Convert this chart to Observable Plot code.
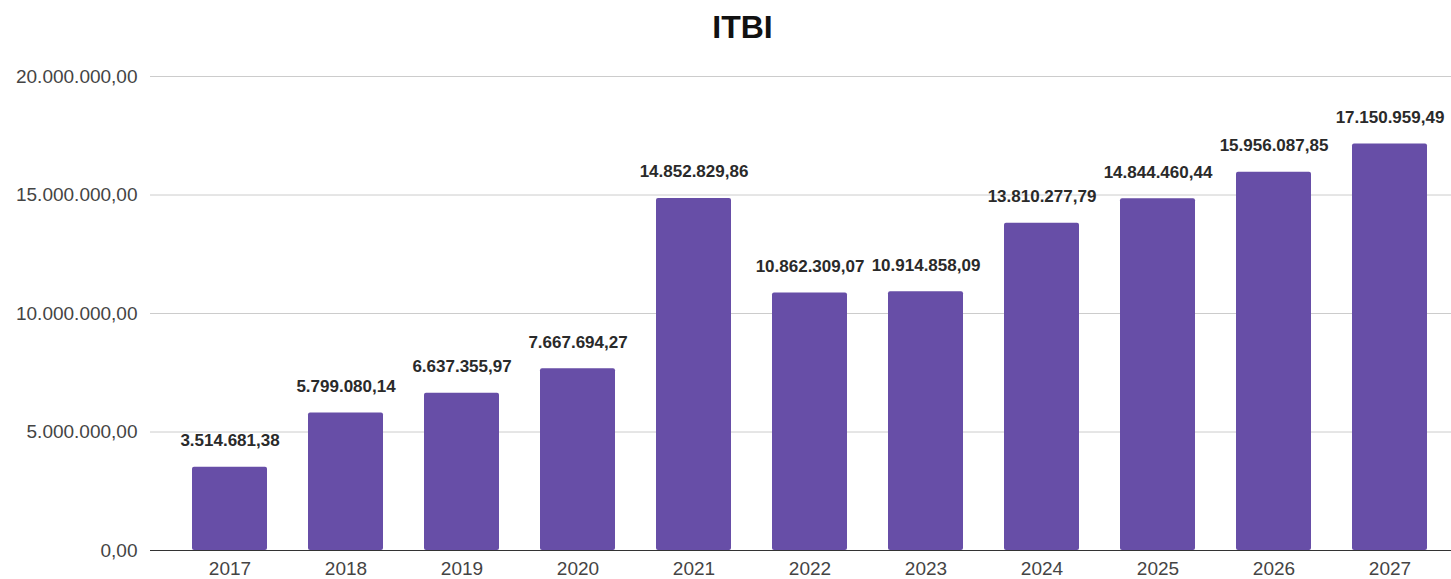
<!DOCTYPE html>
<html>
<head>
<meta charset="utf-8">
<script src="https://cdn.jsdelivr.net/npm/d3@7"></script>
<script src="https://cdn.jsdelivr.net/npm/@observablehq/plot@0.6"></script>
<style>
  body { margin: 0; background: #fff; font-family: Arial, "Liberation Sans", sans-serif; }
  #title { height: 60px; line-height: 54px; text-align: center; font-weight: bold; font-size: 32px; color: #111; padding-left: 34px; }
</style>
</head>
<body>
<div id="title">ITBI</div>
<div id="chart"></div>
<script>
const years = ["2017","2018","2019","2020","2021","2022","2023","2024","2025","2026","2027"];
const values = [3514681.38, 5799080.14, 6637355.97, 7667694.27, 14852829.86, 10862309.07, 10914858.09, 13810277.79, 14844460.44, 15956087.85, 17150959.49];
const yTicks = [0, 5000000, 10000000, 15000000, 20000000];

const data = years.map((y, i) => ({year: y, value: values[i]}));
const fmt = d3.formatLocale({decimal: ",", thousands: ".", grouping: [3], currency: ["", ""]}).format(",.2f");

const chart = Plot.plot({
  width: 1451,
  height: 519,
  marginTop: 16,
  marginBottom: 29,
  marginLeft: 150,
  marginRight: 0,
  style: {fontFamily: "Arial, 'Liberation Sans', sans-serif", fontSize: "19px", color: "#444", background: "#fff"},
  x: {domain: years, range: [190, 1430], paddingInner: 0.35, paddingOuter: 0, label: null, tickSize: 0, tickPadding: 11},
  y: {domain: [0, 20000000], label: null, ticks: yTicks, tickFormat: fmt, tickSize: 0, tickPadding: 13},
  marks: [
    Plot.ruleY(yTicks.slice(1), {stroke: "#ccc", strokeWidth: 1}),
    Plot.barY(data, {x: "year", y: "value", fill: "#674ea7", rx: 2}),
    Plot.ruleY([0], {stroke: "#333", strokeWidth: 1}),
    Plot.text(data, {x: "year", y: "value", text: d => fmt(d.value), lineAnchor: "bottom", dy: -21, fontSize: 17, fontWeight: "bold", fill: "#2a2a2a"})
  ]
});
document.getElementById("chart").appendChild(chart);
</script>
</body>
</html>
